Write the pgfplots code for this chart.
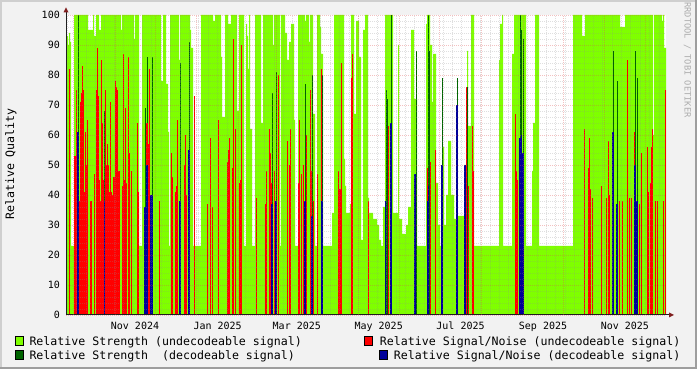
\documentclass[border=0pt]{standalone}
\usepackage{fontspec}
\setmainfont{DejaVu Sans Mono}
\usepackage{pgfplots}
\usepackage{pgfplotstable}
\pgfplotsset{compat=1.18}
\definecolor{lgreen}{HTML}{7FFF00}
\definecolor{dgreen}{HTML}{006400}
\definecolor{rred}{HTML}{FF0000}
\definecolor{rblue}{HTML}{000099}
\definecolor{bgc}{HTML}{F2F2F2}
\definecolor{shadea}{HTML}{CFCFCF}
\definecolor{shadeb}{HTML}{9E9E9E}
\definecolor{gridc}{HTML}{8F8F8F}
\definecolor{mgridc}{HTML}{DE4F4F}
\definecolor{arrowc}{HTML}{801F1F}
\definecolor{axisc}{HTML}{1F1F1F}

% light green: strength (undecodeable), step segments: start column, value
\pgfplotstableread{
x y
67 93
68 90
69 94
70 91
71 23
74 100
88 95
93 100
94 93
96 100
99 95
101 100
121 95
122 100
134 92
135 100
139 23
142 100
161 78
163 100
166 77
168 61
169 23
170 100
179 85
180 100
190 95
191 89
193 23
201 100
213 98
215 100
221 86
222 66
225 100
228 97
231 100
237 68
239 100
244 23
246 97
247 93
248 82
249 100
250 62
252 23
255 100
261 64
263 100
273 90
274 100
280 23
281 100
285 94
287 85
289 91
291 97
294 65
295 23
298 100
305 98
306 100
309 91
310 100
313 67
315 23
317 100
320 96
321 87
323 23
332 34
334 100
344 52
345 43
346 34
350 37
351 100
354 67
356 98
359 86
361 25
363 95
365 100
368 39
369 34
373 32
377 30
379 25
381 23
383 36
385 100
393 34
398 90
399 32
402 27
406 30
408 36
411 95
414 72
417 23
426 97
427 100
430 90
432 71
433 87
436 44
438 30
440 23
442 56
444 30
446 40
448 58
451 40
454 32
456 33
464 50
467 88
468 63
471 100
474 23
499 85
500 97
502 100
503 23
512 87
514 100
526 23
532 48
533 64
535 100
539 23
573 100
582 93
585 100
620 96
625 100
653 60
654 100
662 98
663 100
664 89
666 89
}\greendata

% red: signal/noise (undecodeable)
\pgfplotstableread{
x y
69 82
74 53
75 53
76 75
79 38
80 71
81 74
82 83
83 75
84 41
85 61
86 50
87 65
90 38
91 38
94 47
96 75
97 89
98 73
99 45
100 38
101 85
102 64
103 45
105 75
106 50
107 57
108 50
109 41
110 71
111 41
112 40
113 46
114 46
115 78
116 76
117 75
118 48
119 48
122 43
123 87
124 45
125 69
126 44
128 86
129 54
131 48
137 64
138 41
146 64
147 64
148 57
149 82
159 38
171 54
172 46
175 41
176 43
177 65
184 50
185 60
186 40
194 73
207 37
210 59
212 36
218 65
227 51
228 55
229 59
232 49
233 92
235 62
239 44
240 45
241 90
256 39
265 37
266 48
269 62
270 54
271 44
274 48
278 80
287 58
289 50
290 62
298 44
299 65
301 47
303 50
306 60
310 75
311 48
313 38
317 47
321 82
338 48
339 42
340 42
341 84
351 79
352 87
368 38
388 63
427 49
428 43
430 51
435 55
466 76
468 43
472 63
473 48
515 67
516 48
517 45
584 62
588 49
589 59
590 42
592 39
601 43
606 39
608 58
609 40
619 38
622 38
627 85
629 39
631 39
634 61
639 37
641 54
647 56
648 41
650 44
651 56
652 62
655 38
657 38
663 38
665 75
}\reddata

% dark green: strength (decodeable)
\pgfplotstableread{
x y
78 100
104 68
145 69
147 86
152 86
180 84
189 91
272 74
276 81
305 77
312 80
322 80
386 75
387 72
391 100
416 88
428 100
429 88
442 79
457 79
467 76
520 100
521 95
523 92
613 88
617 78
635 88
637 79
}\dgreendata

% blue: signal/noise (decodeable)
\pgfplotstableread{
x y
77 61
78 61
104 38
144 36
145 36
146 50
147 50
150 40
151 40
152 40
179 38
180 38
188 55
189 55
271 37
272 37
275 38
276 38
304 38
305 38
311 33
312 33
321 38
322 38
385 38
390 64
391 64
414 47
415 47
427 38
428 43
441 50
442 50
456 70
457 70
464 50
465 50
519 59
520 59
521 60
522 54
523 54
612 61
613 61
616 37
617 37
634 50
635 50
636 38
637 38
}\bluedata

\begin{document}
\begin{tikzpicture}[x=1pt,y=1pt]
\fill[bgc] (0pt,0pt) rectangle (697pt,369pt);
\fill[shadea] (0pt,0pt) rectangle (2pt,369pt);
\fill[shadea] (0pt,367pt) rectangle (697pt,369pt);
\fill[shadeb] (0pt,0pt) rectangle (697pt,2pt);
\fill[shadeb] (695pt,0pt) rectangle (697pt,369pt);
\begin{axis}[
  at={(66pt,54pt)}, anchor=south west,
  scale only axis, width=600pt, height=300pt,
  xmin=66, xmax=666, ymin=0, ymax=100,
  axis background/.style={fill=white},
  axis on top,
  axis x line*=bottom, axis y line*=left,
  axis line style={axisc, line width=1pt, -},
  tick style={draw=none},
  major tick length=0pt, minor tick length=0pt,
  /pgf/number format/assume math mode=true,
  xtick={135,217.6,296.8,378.7,460.5,543,624.9},
  xticklabels={Nov 2024,Jan 2025,Mar 2025,May 2025,Jul 2025,Sep 2025,Nov 2025},
  xticklabel style={font=\fontsize{10}{12}\selectfont, anchor=north, inner sep=0pt, yshift=-6.5pt},
  minor xtick={67.2,76.594,...,666},
  xminorgrids,
  extra x ticks={73.4,115,155.2,196.8,238.4,276,317.6,357.9,399.5,439.7,481.3,522.9,563.2,604.8,645.1},
  extra x tick labels={},
  extra x tick style={xmajorgrids=true},
  ytick={0,10,...,100},
  minor ytick={2,4,6,8,12,14,16,18,22,24,26,28,32,34,36,38,42,44,46,48,52,54,56,58,62,64,66,68,72,74,76,78,82,84,86,88,92,94,96,98},
  ymajorgrids, yminorgrids,
  yticklabel style={font=\fontsize{10}{12}\selectfont, anchor=east, inner sep=0pt, xshift=-6pt},
  major grid style={mgridc, opacity=0.35, line width=0.7pt, dash pattern=on 1pt off 1pt},
  minor grid style={gridc, opacity=0.28, line width=0.7pt, dash pattern=on 1pt off 1pt},
]
\addplot[const plot, fill=lgreen, draw=none] table[x=x,y=y] {\greendata} \closedcycle;
\addplot[ycomb, draw=dgreen, line width=1pt] table[x expr=\thisrow{x}+0.5, y=y] {\dgreendata};
\addplot[ycomb, draw=rred, line width=1pt] table[x expr=\thisrow{x}+0.5, y=y] {\reddata};
\addplot[ycomb, draw=rblue, line width=1pt] table[x expr=\thisrow{x}+0.5, y=y] {\bluedata};
\end{axis}
% axis extensions and arrows
\draw[axisc, line width=1pt] (666pt,54pt) -- (669pt,54pt);
\fill[arrowc] (669pt,51.5pt) -- (674pt,54pt) -- (669pt,56.5pt) -- cycle;
\draw[axisc, line width=1pt] (66pt,354pt) -- (66pt,357pt);
\fill[arrowc] (63.5pt,356.5pt) -- (66pt,361.5pt) -- (68.5pt,356.5pt) -- cycle;
% y label
\node[rotate=90, font=\fontsize{11.6}{13}\selectfont, inner sep=0pt] at (11pt,205pt) {Relative Quality};
% watermark
\node[rotate=-90, font=\fontsize{8.7}{10}\selectfont, text=black!32, inner sep=0pt] at (687.5pt,309pt) {RRDTOOL / TOBI OETIKER};
% legend
\filldraw[fill=lgreen, draw=black, line width=0.8pt] (15.5pt,23.3pt) rectangle (23.5pt,32.3pt);
\node[anchor=base west, inner sep=0pt, font=\fontsize{11.6}{13}\selectfont] at (29.3pt,23.2pt) {Relative Strength (undecodeable signal)};
\filldraw[fill=rred, draw=black, line width=0.8pt] (364.5pt,23.3pt) rectangle (372.5pt,32.3pt);
\node[anchor=base east, inner sep=0pt, font=\fontsize{11.6}{13}\selectfont] at (680.5pt,23.2pt) {Relative Signal/Noise (undecodeable signal)};
\filldraw[fill=dgreen, draw=black, line width=0.8pt] (15.5pt,9.7pt) rectangle (23.5pt,18.7pt);
\node[anchor=base west, inner sep=0pt, font=\fontsize{11.6}{13}\selectfont] at (29.3pt,9.6pt) {Relative Strength \ (decodeable signal)};
\filldraw[fill=rblue, draw=black, line width=0.8pt] (379.5pt,9.7pt) rectangle (387.5pt,18.7pt);
\node[anchor=base east, inner sep=0pt, font=\fontsize{11.6}{13}\selectfont] at (680.5pt,9.6pt) {Relative Signal/Noise (decodeable signal)};
\end{tikzpicture}
\end{document}
